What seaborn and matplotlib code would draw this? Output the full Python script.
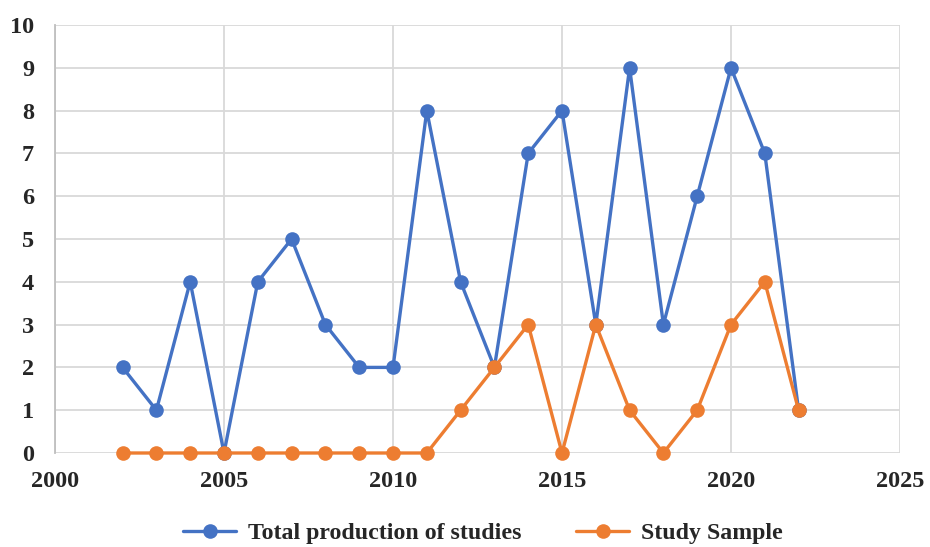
import matplotlib
matplotlib.use("Agg")
import matplotlib.pyplot as plt
import seaborn as sns
import pandas as pd

years = list(range(2002, 2023))
total_production = [2, 1, 4, 0, 4, 5, 3, 2, 2, 8, 4, 2, 7, 8, 3, 9, 3, 6, 9, 7, 1]
study_sample = [0, 0, 0, 0, 0, 0, 0, 0, 0, 0, 1, 2, 3, 0, 3, 1, 0, 1, 3, 4, 1]
series_names = ["Total production of studies", "Study Sample"]
colors = ["#4472C4", "#ED7D31"]
x_ticks = [2000, 2005, 2010, 2015, 2020, 2025]
y_ticks = list(range(0, 11))

df = pd.DataFrame({
    "Year": years * 2,
    "Value": total_production + study_sample,
    "Series": [series_names[0]] * len(years) + [series_names[1]] * len(years),
})

sns.set_theme(style="white")
plt.rcParams["font.family"] = ["Liberation Serif", "DejaVu Serif"]
plt.rcParams["font.weight"] = "bold"

fig = plt.figure(figsize=(9.3, 5.47), dpi=100)
ax = fig.add_axes([55 / 930, 94 / 547, 845 / 930, 428 / 547])

sns.lineplot(data=df, x="Year", y="Value", hue="Series", palette=colors,
             marker="o", markersize=10.5, markeredgewidth=0, linewidth=2.4,
             ax=ax, clip_on=False)

ax.set_xlim(2000, 2025)
ax.set_ylim(0, 10)
ax.set_xticks(x_ticks)
ax.set_yticks(y_ticks)
ax.grid(True, color="#D9D9D9", linewidth=1.3)
ax.set_axisbelow(True)
for side in ["top", "right", "bottom"]:
    ax.spines[side].set_visible(False)
ax.spines["left"].set_color("#BFBFBF")
ax.spines["left"].set_linewidth(1.3)
ax.tick_params(axis="both", length=0, labelsize=17.5)
ax.tick_params(axis="x", pad=13)
ax.tick_params(axis="y", pad=15)
for lbl in ax.get_xticklabels() + ax.get_yticklabels():
    lbl.set_fontweight("bold")
ax.set_xlabel("")
ax.set_ylabel("")

leg = ax.legend(loc="center", bbox_to_anchor=(483 / 930, 14 / 547),
                bbox_transform=fig.transFigure, ncol=2,
                frameon=False, handlelength=2.2, handletextpad=0.5,
                columnspacing=2.3, borderpad=0.1,
                prop={"weight": "bold", "size": 17.2})

fig.savefig("out.png", dpi=100)
